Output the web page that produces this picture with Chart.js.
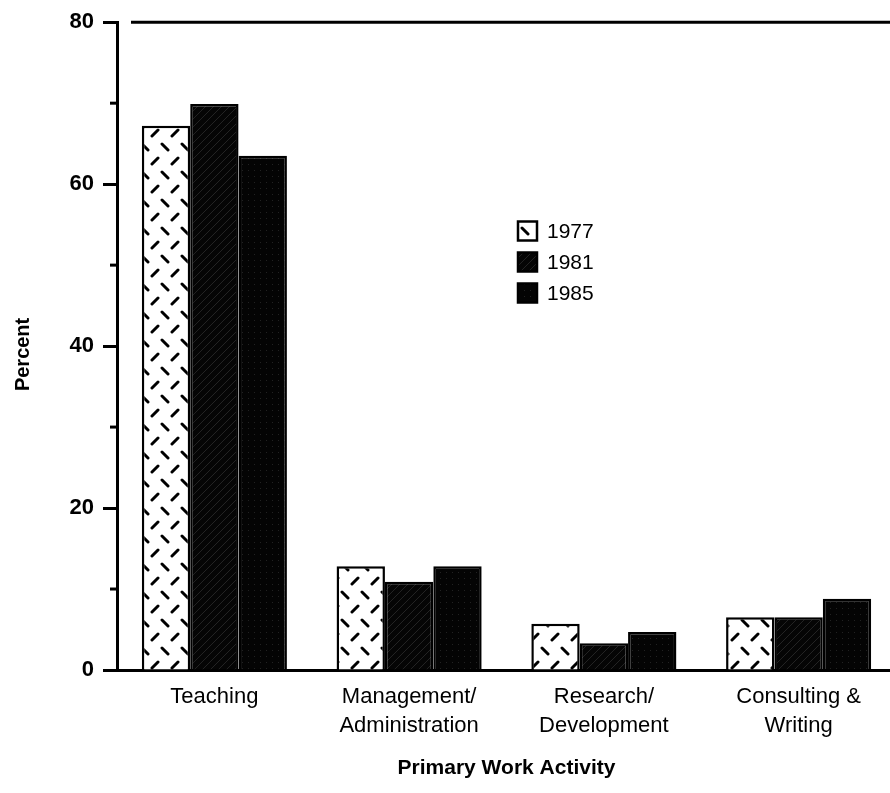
<!DOCTYPE html>
<html>
<head>
<meta charset="utf-8">
<script src="https://cdn.jsdelivr.net/npm/chart.js@4.4.1/dist/chart.umd.min.js"></script>
<style>
  html, body { margin: 0; padding: 0; background: #fff; overflow: hidden; }
  #wrap { position: absolute; left: 0; top: 0; width: 898px; height: 793px; }
</style>
</head>
<body>
<div id="wrap"><canvas id="myChart"></canvas></div>
<script>
// data
const categories = [['Teaching'], ['Management/', 'Administration'], ['Research/', 'Development'], ['Consulting &', 'Writing']];
const years = ['1977', '1981', '1985'];
const values1977 = [67.2, 12.8, 5.7, 6.5];
const values1981 = [69.9, 10.9, 3.3, 6.5];
const values1985 = [63.5, 12.8, 4.7, 8.8];
const minorTicks = [10, 30, 50, 70];

// fill patterns like the old print shading
function makeTile(w, h, draw) {
  const c = document.createElement('canvas');
  c.width = w; c.height = h;
  draw(c.getContext('2d'));
  return document.createElement('canvas').getContext('2d').createPattern(c, 'repeat');
}
const dashFill = makeTile(20, 28, g => {
  g.fillStyle = '#fff'; g.fillRect(0, 0, 20, 28);
  g.strokeStyle = '#000'; g.lineWidth = 3; g.lineCap = 'round';
  const seg = (x, y, d) => { g.beginPath(); g.moveTo(x - 3, y - 3 * d); g.lineTo(x + 3, y + 3 * d); g.stroke(); };
  seg(5, 7, 1); seg(15, 21, -1);
});
const hatchFill = makeTile(8, 8, g => {
  g.fillStyle = '#050505'; g.fillRect(0, 0, 8, 8);
  g.strokeStyle = 'rgba(255,255,255,0.12)'; g.lineWidth = 1;
  g.beginPath(); g.moveTo(0, 8); g.lineTo(8, 0); g.stroke();
});
const dotFill = makeTile(6, 6, g => {
  g.fillStyle = '#040404'; g.fillRect(0, 0, 6, 6);
  g.fillStyle = 'rgba(255,255,255,0.12)'; g.fillRect(2, 2, 1, 1);
});
const fills = [dashFill, hatchFill, dotFill];

const frameLines = {
  id: 'frameLines',
  afterDraw(chart) {
    const { ctx, chartArea, scales } = chart;
    const y = scales.y;
    ctx.save();
    ctx.strokeStyle = '#000';
    // top rule
    ctx.lineWidth = 3;
    ctx.beginPath();
    ctx.moveTo(chartArea.left + 14, chartArea.top);
    ctx.lineTo(chart.width, chartArea.top);
    ctx.stroke();
    // minor ticks
    minorTicks.forEach(v => {
      const py = y.getPixelForValue(v);
      ctx.beginPath();
      ctx.moveTo(chartArea.left - 7, py);
      ctx.lineTo(chartArea.left, py);
      ctx.stroke();
    });
    // legend
    const lx = 518, ly = 231, step = 31, box = 19;
    ctx.font = '21px "Liberation Sans", Arial, sans-serif';
    ctx.textBaseline = 'middle';
    chart.data.datasets.forEach((ds, i) => {
      const cy = ly + i * step;
      ctx.fillStyle = ds.backgroundColor;
      ctx.fillRect(lx, cy - box / 2, box, box);
      ctx.lineWidth = 2.5;
      ctx.strokeRect(lx, cy - box / 2, box, box);
      ctx.fillStyle = '#000';
      ctx.fillText(ds.label, lx + 29, cy + 1);
    });
    ctx.restore();
  }
};

const ctx = document.getElementById('myChart').getContext('2d');
new Chart(ctx, {
  type: 'bar',
  data: {
    labels: categories,
    datasets: [
      { label: years[0], data: values1977, backgroundColor: fills[0] },
      { label: years[1], data: values1981, backgroundColor: fills[1] },
      { label: years[2], data: values1985, backgroundColor: fills[2] }
    ]
  },
  options: {
    responsive: true,
    maintainAspectRatio: false,
    animation: false,
    layout: { padding: { left: 0, right: 2, top: 22, bottom: 0 } },
    datasets: {
      bar: {
        borderColor: '#000',
        borderWidth: 2.5,
        barPercentage: 1,
        categoryPercentage: 0.745
      }
    },
    scales: {
      x: {
        afterFit: s => { s.height = 123; },
        grid: { display: false, drawTicks: false },
        border: { display: true, color: '#000', width: 3 },
        ticks: {
          color: '#000',
          padding: 13,
          font: { family: '"Liberation Sans", Arial, sans-serif', size: 22, lineHeight: 1.3 }
        },
        title: {
          display: true,
          text: 'Primary Work Activity',
          color: '#000',
          font: { family: '"Liberation Sans", Arial, sans-serif', size: 21, weight: 'bold' },
          padding: { top: 0, bottom: 12 }
        }
      },
      y: {
        min: 0,
        max: 80,
        afterFit: s => { s.width = 117; },
        ticks: {
          stepSize: 20,
          color: '#000',
          padding: 9,
          font: { family: '"Liberation Sans", Arial, sans-serif', size: 22, weight: 'bold' }
        },
        grid: { drawOnChartArea: false, tickLength: 14, tickWidth: 3, tickColor: '#000' },
        border: { display: true, color: '#000', width: 3 },
        title: {
          display: true,
          text: 'Percent   ',
          color: '#000',
          font: { family: '"Liberation Sans", Arial, sans-serif', size: 20, weight: 'bold' },
          padding: { top: 11, bottom: 0 }
        }
      }
    },
    plugins: {
      legend: { display: false },
      tooltip: { enabled: false }
    }
  },
  plugins: [frameLines]
});
</script>
</body>
</html>
